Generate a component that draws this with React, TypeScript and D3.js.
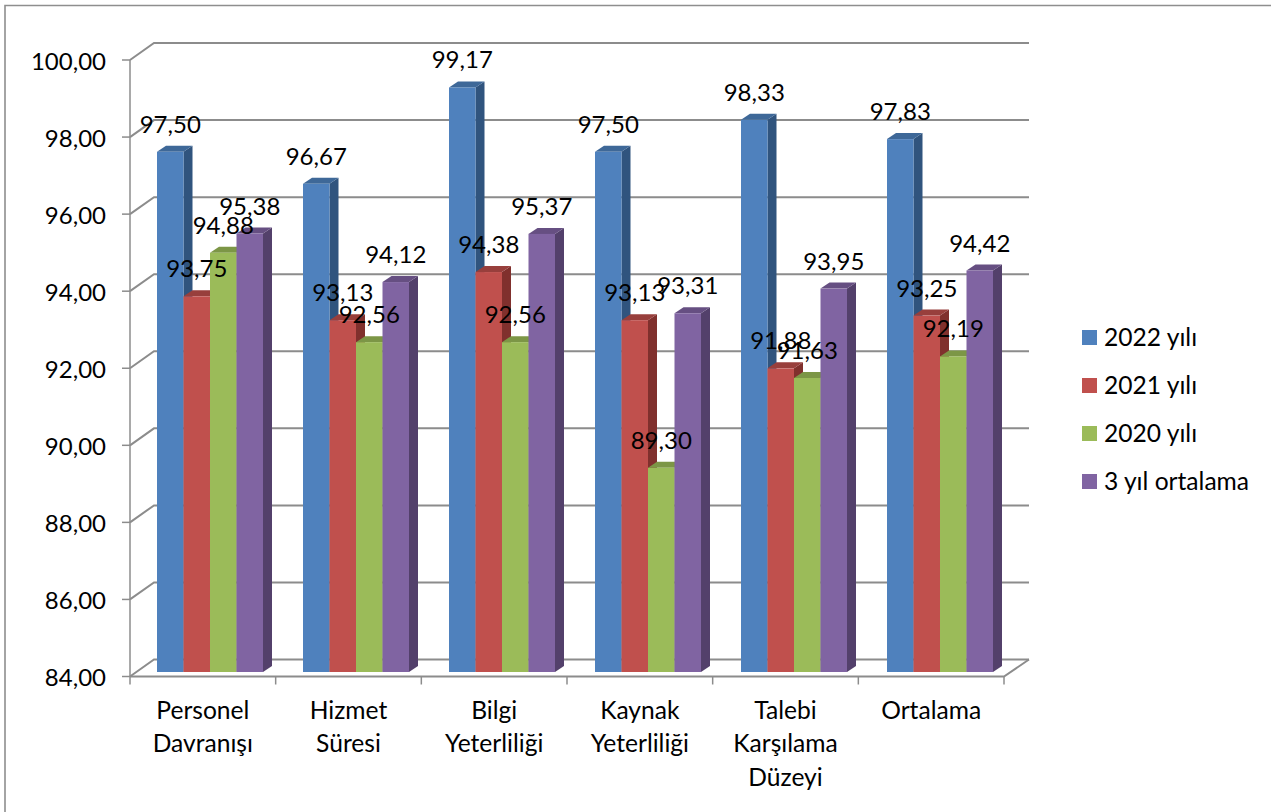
import React from "react";
import * as d3 from "d3";

const categories: string[][] = [
  ["Personel", "Davranışı"],
  ["Hizmet", "Süresi"],
  ["Bilgi", "Yeterliliği"],
  ["Kaynak", "Yeterliliği"],
  ["Talebi", "Karşılama", "Düzeyi"],
  ["Ortalama"],
];
const seriesNames = ["2022 yılı", "2021 yılı", "2020 yılı", "3 yıl ortalama"];
const v2022 = [97.5, 96.67, 99.17, 97.5, 98.33, 97.83];
const v2021 = [93.75, 93.13, 94.38, 93.13, 91.88, 93.25];
const v2020 = [94.88, 92.56, 92.56, 89.3, 91.63, 92.19];
const vAvg = [95.38, 94.12, 95.37, 93.31, 93.95, 94.42];
const seriesValues = [v2022, v2021, v2020, vAvg];
const yTicks = [84, 86, 88, 90, 92, 94, 96, 98, 100];
const front = ["#4f81bd", "#c0504d", "#9bbb59", "#8064a2"];
const side = ["#30547e", "#80302d", "#64792f", "#53406b"];
const top = ["#3e6898", "#983f3c", "#7c9646", "#664f82"];

const W = 1271, H = 812;
const FONT = "Lato, Carlito, Calibri, sans-serif";
const FS_NUM = 24;
const FS_TXT = 24.6;
const GRID = "#8c8c8c";
const DX = 24, DY = -17;
const BDX = 9, BDY = -6;

const fmt = (v: number) => v.toFixed(2).replace(".", ",");

export default function App() {
  const yFront = d3.scaleLinear().domain([84, 100]).range([676.5, 60]);
  const yBar = d3.scaleLinear().domain([84, 100]).range([672, 55.5]);
  const xFront = d3.scaleBand<number>().domain(d3.range(6)).range([130, 1004]);
  const xBars = d3.scaleBand<number>().domain(d3.range(6)).range([130.5, 1006.5]);
  const xSer = d3.scaleBand<number>().domain(d3.range(4)).range([26.5, 132.5]);
  const bw = xSer.bandwidth();
  const [x0, x1] = xFront.range();
  return (
    <svg width={W} height={H} style={{ position: "absolute", left: 0, top: 0, background: "#fff" }} fontFamily={FONT}>
      <path d={`M5 812V5.5H${W}`} fill="none" stroke="#8e8e8e" strokeWidth={1.6} />
      {/* back wall gridlines and left wall diagonals */}
      {yTicks.map((t) => {
        const y = yFront(t);
        return (
          <g key={t}>
            <path d={`M${x0} ${y}L${x0 + DX} ${y + DY}H${x1 + DX + 1}`} fill="none" stroke={GRID} strokeWidth={2} />
            <line x1={x0 - 8} x2={x0} y1={y} y2={y} stroke={GRID} strokeWidth={1.5} />
            <text x={106} y={y} dy="0.4em" fontSize={FS_NUM} textAnchor="end" fill="#000">{fmt(t)}</text>
          </g>
        );
      })}
      {/* floor */}
      <path d={`M${x0} ${yFront(84)}H${x1}L${x1 + DX + 1} ${yFront(84) + DY}`} fill="none" stroke={GRID} strokeWidth={2} />
      <line x1={x0} x2={x0} y1={yFront(100)} y2={yFront(84) + 8} stroke={GRID} strokeWidth={1.5} />
      {d3.range(1, 7).map((i) => {
        const x = x0 + i * xFront.step();
        return <line key={i} x1={x} x2={x} y1={yFront(84)} y2={yFront(84) + 8} stroke={GRID} strokeWidth={1.5} />;
      })}
      {/* bars */}
      {categories.map((_, c) => (
        <g key={c}>
          {seriesValues.map((vals, s) => {
            const x = xBars(c)! + xSer(s)!;
            const yt = yBar(vals[c]);
            const yb = yBar(84);
            return (
              <g key={s}>
                <path d={`M${x + bw} ${yt}l${BDX} ${BDY}V${yb + BDY}l${-BDX} ${-BDY}Z`} fill={side[s]} />
                <path d={`M${x} ${yt}l${BDX} ${BDY}H${x + bw + BDX}l${-BDX} ${-BDY}Z`} fill={top[s]} />
                <rect x={x} y={yt} width={bw} height={yb - yt} fill={front[s]} />
              </g>
            );
          })}
        </g>
      ))}
      {/* data labels */}
      {categories.map((_, c) =>
        seriesValues.map((vals, s) => (
          <text key={`${c}-${s}`} x={xBars(c)! + xSer(s)! + bw / 2} y={yBar(vals[c]) - 19} fontSize={FS_NUM} textAnchor="middle" fill="#000">
            {fmt(vals[c])}
          </text>
        ))
      )}
      {/* category labels */}
      {categories.map((lines, c) => (
        <text key={c} fontSize={FS_TXT} textAnchor="middle" fill="#000">
          {lines.map((l, i) => (
            <tspan key={i} x={xFront(c)! + xFront.bandwidth() / 2} y={718.5 + i * 33.5}>{l}</tspan>
          ))}
        </text>
      ))}
      {/* legend */}
      {seriesNames.map((n, i) => {
        const y = 337.5 + i * 48;
        return (
          <g key={n}>
            <rect x={1082} y={y - 7.5} width={15} height={15} fill={front[i]} />
            <text x={1104} y={y} dy="0.34em" fontSize={FS_TXT} fill="#000">{n}</text>
          </g>
        );
      })}
    </svg>
  );
}
